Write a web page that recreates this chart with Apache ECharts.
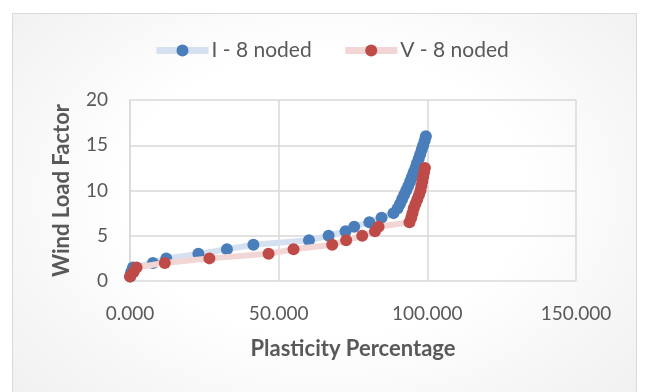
<!DOCTYPE html>
<html>
<head>
<meta charset="utf-8">
<script src="https://cdn.jsdelivr.net/npm/echarts@6/dist/echarts.min.js"></script>
<style>
html,body{margin:0;padding:0;background:#fff;}
#wrap{position:relative;width:646px;height:392px;overflow:hidden;background:#fff;}
#frame{position:absolute;left:12px;top:13px;width:623px;height:400px;border:1px solid #d9d9d9;
  background:radial-gradient(ellipse at 50% 45%, #ffffff 45%, #efefef 100%);}
#chart{position:absolute;left:0;top:0;width:646px;height:392px;}
</style>
</head>
<body>
<div id="wrap">
  <div id="frame"></div>
  <div id="chart"></div>
</div>
<script>
// Series I - 8 noded
const blueName = 'I - 8 noded';
const blueX = [0.1,0.4,1.0,7.7,12.2,23.0,32.6,41.5,60.2,66.8,72.5,75.4,80.5,84.6,88.6,90.0,90.8,91.5,92.2,92.9,93.6,94.2,94.8,95.4,96.0,96.5,97.1,97.6,98.1,98.6,99.1,99.5];
const blueY = [0.5,1,1.5,2,2.5,3,3.5,4,4.5,5,5.5,6,6.5,7,7.5,8,8.5,9,9.5,10,10.5,11,11.5,12,12.5,13,13.5,14,14.5,15,15.5,16];
// Series V - 8 noded
const redName = 'V - 8 noded';
const redX = [0.0,1.2,2.2,11.7,26.7,46.6,55.0,68.0,72.7,78.1,82.4,83.6,94.0,94.6,95.0,95.4,96.0,96.6,97.2,97.7,98.0,98.3,98.6,98.9,99.2];
const redY = [0.5,1,1.5,2,2.5,3,3.5,4,4.5,5,5.5,6,6.5,7,7.5,8,8.5,9,9.5,10,10.5,11,11.5,12,12.5];
// Axes
const xTicks = [0, 50, 100, 150];
const yTicks = [0, 5, 10, 15, 20];
const xTitle = 'Plasticity Percentage';
const yTitle = 'Wind Load Factor';

const pair = (xs, ys) => xs.map((x, i) => [x, ys[i]]);
const FONT = 'Lato';
const chart = echarts.init(document.getElementById('chart'), null, {renderer: 'canvas'});
chart.setOption({
  animation: false,
  backgroundColor: 'transparent',
  textStyle: {fontFamily: FONT},
  legend: {
    left: 148, top: 35,
    itemWidth: 52, itemHeight: 15, itemGap: 30,
    lineStyle: {width: 7},
    textStyle: {fontFamily: FONT, fontSize: 21, color: '#595959', padding: [0,0,0,-2]},
    data: [blueName, redName]
  },
  grid: {left: 130, right: 70, top: 100, bottom: 111, containLabel: false},
  xAxis: {
    type: 'value', min: xTicks[0], max: xTicks[xTicks.length-1], interval: 50,
    name: xTitle, nameLocation: 'middle', nameGap: 57,
    nameTextStyle: {fontFamily: FONT, fontSize: 22, fontWeight: 'bold', color: '#595959'},
    axisLine: {show: false}, axisTick: {show: false},
    splitLine: {show: true, lineStyle: {color: '#d9d9d9', width: 1.5}},
    axisLabel: {fontFamily: FONT, fontSize: 19, color: '#595959', margin: 23, formatter: v => v.toFixed(3)}
  },
  yAxis: {
    type: 'value', min: yTicks[0], max: yTicks[yTicks.length-1], interval: 5,
    name: yTitle, nameLocation: 'middle', nameGap: 57, nameRotate: 90,
    nameTextStyle: {fontFamily: FONT, fontSize: 22, fontWeight: 'bold', color: '#595959'},
    axisLine: {show: true, lineStyle: {color: '#d9d9d9', width: 1.5}}, axisTick: {show: false},
    splitLine: {show: true, lineStyle: {color: '#d9d9d9', width: 1.5}},
    axisLabel: {fontFamily: FONT, fontSize: 19, color: '#595959', margin: 22}
  },
  series: [
    {
      name: blueName, type: 'line', data: pair(blueX, blueY),
      symbol: 'circle', symbolSize: 12, showAllSymbol: true,
      lineStyle: {color: '#d5e0f0', width: 6},
      itemStyle: {color: '#4a7ebb'},
      z: 2
    },
    {
      name: redName, type: 'line', data: pair(redX, redY),
      symbol: 'circle', symbolSize: 12, showAllSymbol: true,
      lineStyle: {color: '#f2d6d6', width: 6},
      itemStyle: {color: '#be4b48'},
      z: 3
    }
  ]
});
</script>
</body>
</html>
